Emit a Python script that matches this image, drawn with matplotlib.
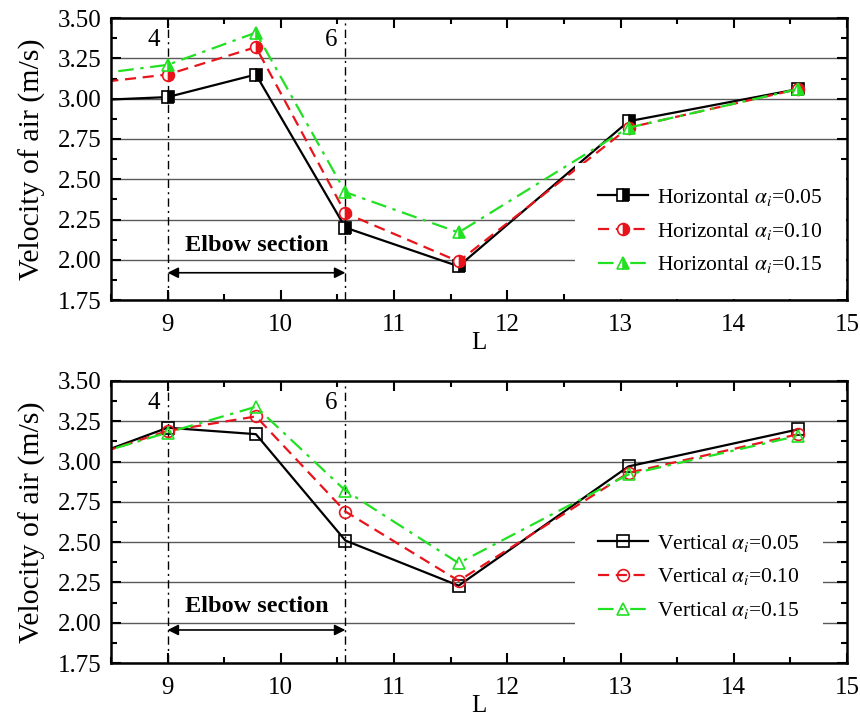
import matplotlib
matplotlib.use("Agg")
import matplotlib.pyplot as plt
from matplotlib.ticker import MultipleLocator, FormatStrFormatter

plt.rcParams["font.family"] = ["Liberation Serif", "DejaVu Serif"]
plt.rcParams["mathtext.fontset"] = "stix"

# positions along the pipe (first point lies left of the visible range)
L = [8.0, 9.0, 9.78, 10.57, 11.57, 13.07, 14.57]

horiz_005 = [2.98, 3.01, 3.15, 2.20, 1.96, 2.86, 3.06]
horiz_010 = [3.07, 3.15, 3.32, 2.29, 1.99, 2.82, 3.06]
horiz_015 = [3.12, 3.21, 3.41, 2.42, 2.17, 2.82, 3.06]

vert_005 = [2.95, 3.21, 3.17, 2.51, 2.23, 2.97, 3.20]
vert_010 = [2.96, 3.19, 3.28, 2.69, 2.26, 2.93, 3.17]
vert_015 = [2.97, 3.18, 3.34, 2.82, 2.37, 2.92, 3.16]

alphas = ["0.05", "0.10", "0.15"]
elbow_start, elbow_end = 9.0, 10.57
section_labels = ["4", "6"]

colors = ["black", "#e8141c", "#22e022"]
markers = ["s", "o", "^"]
styles = ["-", (0, (5, 3)), (0, (7, 3, 1.5, 3))]

fig = plt.figure(figsize=(8.6, 7.25), dpi=100)
ax_top = fig.add_axes([0.129, 0.586, 0.856, 0.389])
ax_bot = fig.add_axes([0.129, 0.0855, 0.856, 0.389])

panels = [
    (ax_top, [horiz_005, horiz_010, horiz_015], "Horizontal", "right", 0.245, 1.92, 2.09),
    (ax_bot, [vert_005, vert_010, vert_015], "Vertical", "none", 0.305, 1.955, 2.10),
]

for ax, series, name, fill, leg_y, arrow_y, text_y in panels:
    ax.set_xlim(8.5, 15)
    ax.set_ylim(1.75, 3.5)
    ax.yaxis.grid(True, color="#5a5a5a", linewidth=1.0)
    ax.set_axisbelow(True)

    for vals, a, c, m, ls in zip(series, alphas, colors, markers, styles):
        kw = dict(color=c, linestyle=ls, linewidth=1.6, marker=m,
                  markersize=9 if m == "^" else 8.5, markeredgewidth=1.2,
                  markeredgecolor=c, label=f"{name} $\\alpha_i$=" + a)
        if fill == "right":
            kw.update(fillstyle="right", markerfacecolor=c,
                      markerfacecoloralt="white")
        else:
            kw.update(markerfacecolor="none")
        ax.plot(L, vals, **kw)

    for xv, lab in zip([elbow_start, elbow_end], section_labels):
        ax.axvline(xv, color="black", linewidth=1.0,
                   linestyle=(0, (6, 3, 1.5, 3)), zorder=1.5)
        ax.text(xv - 0.07, 3.365, lab, ha="right", va="center", fontsize=18)

    ax.annotate("", xy=(elbow_start, arrow_y), xytext=(elbow_end, arrow_y),
                arrowprops=dict(arrowstyle="<|-|>", color="black", lw=1.2,
                                shrinkA=0, shrinkB=0, mutation_scale=16))
    ax.text((elbow_start + elbow_end) / 2, text_y, "Elbow section",
            ha="center", va="center", fontsize=17.5, fontweight="bold")

    ax.xaxis.set_major_locator(MultipleLocator(1))
    ax.xaxis.set_minor_locator(MultipleLocator(0.5))
    ax.yaxis.set_major_locator(MultipleLocator(0.25))
    ax.yaxis.set_minor_locator(MultipleLocator(0.125))
    ax.yaxis.set_major_formatter(FormatStrFormatter("%.2f"))
    ax.tick_params(which="both", direction="in", top=True, right=True,
                   width=1.5, labelsize=18)
    ax.tick_params(which="major", length=7)
    ax.tick_params(axis="x", which="major", pad=10)
    ax.tick_params(axis="y", which="major", pad=7)
    ax.tick_params(which="minor", length=4)
    for sp in ax.spines.values():
        sp.set_linewidth(1.8)

    ax.set_xlabel("L", fontsize=18, labelpad=-3)
    ax.set_ylabel("Velocity of air (m/s)", fontsize=21.5, labelpad=8)

    ax.legend(loc="center left", bbox_to_anchor=(0.630, leg_y),
              fontsize=15.5, frameon=True, fancybox=False,
              framealpha=1, edgecolor="none", facecolor="white",
              handlelength=2.3, handletextpad=0.4, labelspacing=0.6,
              borderaxespad=0, borderpad=1.1)

fig.savefig("out.png", dpi=100)
